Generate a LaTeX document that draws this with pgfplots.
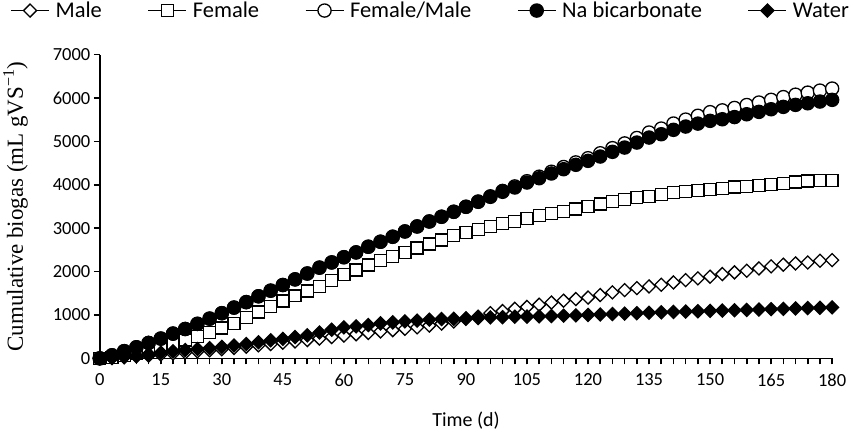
\documentclass[border=0pt]{standalone}
\usepackage{pgfplots}
\pgfplotsset{compat=1.18}
\usepackage{fontspec}
\setmainfont{Carlito}
\newfontfamily\tnr{Liberation Serif}

\pgfplotstableread{
d male female fm na water
0 0 0 0 0 0
3 10 20 70 70 10
6 25 60 165 165 30
9 45 120 255 255 60
12 65 190 355 355 95
15 90 260 455 455 130
18 110 340 570 570 160
21 135 420 676 676 190
24 160 500 795 795 215
27 185 600 915 915 235
30 210 700 1040 1040 265
33 240 810 1170 1170 295
36 270 940 1295 1295 330
39 300 1070 1430 1430 370
42 330 1200 1560 1560 415
45 360 1320 1690 1690 450
48 390 1440 1820 1820 490
51 420 1550 1955 1955 530
54 455 1660 2090 2090 595
57 490 1790 2210 2210 660
60 525 1930 2330 2330 714
63 555 2034 2441 2441 737
66 585 2149 2572 2572 767
69 620 2249 2687 2687 806
72 650 2341 2802 2802 829
75 680 2441 2924 2924 852
78 715 2540 3039 3039 868
81 755 2632 3154 3154 891
84 800 2724 3263 3263 905
87 850 2825 3378 3378 910
90 910 2901 3493 3493 921
93 960 2977 3613 3608 929
96 1040 3040 3733 3723 944
99 1090 3100 3858 3838 948
102 1140 3160 3962 3937 960
105 1185 3230 4082 4052 962
108 1236 3285 4186 4151 967
111 1285 3339 4300 4260 975
114 1328 3390 4409 4359 983
117 1366 3440 4515 4460 990
120 1400 3493 4612 4552 1000
123 1458 3560 4726 4651 1010
126 1520 3620 4844 4759 1020
129 1573 3665 4953 4858 1030
132 1619 3705 5078 4973 1040
135 1658 3735 5204 5088 1050
138 1696 3770 5295 5165 1060
141 1750 3815 5411 5266 1070
144 1803 3840 5502 5342 1078
147 1842 3865 5590 5410 1085
150 1881 3898 5673 5473 1093
153 1941 3921 5715 5510 1100
156 1980 3950 5770 5560 1108
159 2019 3965 5838 5625 1115
162 2072 3990 5895 5680 1125
165 2118 4013 5957 5740 1133
168 2157 4036 6020 5795 1140
171 2187 4065 6076 5841 1150
174 2210 4085 6123 5878 1158
177 2249 4095 6170 5918 1165
180 2264 4106 6217 5957 1174
}\datatable

\begin{document}
\begin{tikzpicture}
\begin{axis}[
  scale only axis, width=733pt, height=304pt,
  xmin=0, xmax=180, ymin=0, ymax=7000,
  clip=false,
  axis x line*=bottom, axis y line*=left,
  axis line style={line width=1.6pt, black},
  xtick={0,15,...,180}, minor xtick={3,6,...,177},
  ytick={0,1000,...,7000},
  tick align=outside, major tick length=6pt, minor tick length=6pt,
  every tick/.style={line width=1.6pt, black},
  every minor tick/.style={line width=1.6pt, black},
  ticklabel style={font=\fontsize{18.5}{20}\selectfont},
  xticklabel style={yshift=-6pt},
  /pgf/number format/assume math mode=true,
  /pgf/number format/1000 sep={},
  xlabel={Time (d)},
  xlabel style={font=\fontsize{20}{22}\selectfont, yshift=-18pt},
  ylabel={Cumulative biogas (mL gVS\textsuperscript{−1})},
  ylabel style={font=\tnr\fontsize{23}{25}\selectfont, yshift=18pt},
  legend columns=5,
  legend style={draw=none, fill=none, inner sep=0pt, at={(axis description cs:-0.122,1.145)}, anchor=west,
    font=\fontsize{22.5}{24}\selectfont,
    /tikz/every odd column/.append style={column sep=4pt},
    /tikz/every even column/.append style={column sep=44pt},
    /tikz/column 10/.style={column sep=0pt}},
  legend image code/.code={\draw[#1, mark repeat=2, mark phase=2] plot coordinates {(0pt,0pt) (19pt,0pt) (38pt,0pt)};},
  every axis plot/.append style={black, line width=1pt},
]
\addplot[mark=square*, mark size=4.6pt, mark options={rotate=45, fill=white, line width=1.3pt}] table[x=d, y=male] {\datatable};
\addlegendentry{Male}
\addplot[mark=square*, mark size=6pt, mark options={fill=white, line width=1.3pt}] table[x=d, y=female] {\datatable};
\addlegendentry{Female}
\addplot[mark=*, mark size=6.6pt, mark options={fill=white, line width=1.3pt}] table[x=d, y=fm] {\datatable};
\addlegendentry{Female/Male}
\addplot[mark=*, mark size=6.6pt, mark options={fill=black, line width=1.3pt}] table[x=d, y=na] {\datatable};
\addlegendentry{Na bicarbonate}
\addplot[mark=square*, mark size=4.6pt, mark options={rotate=45, fill=black, line width=1.3pt}] table[x=d, y=water] {\datatable};
\addlegendentry{Water}
\end{axis}
\end{tikzpicture}
\end{document}
